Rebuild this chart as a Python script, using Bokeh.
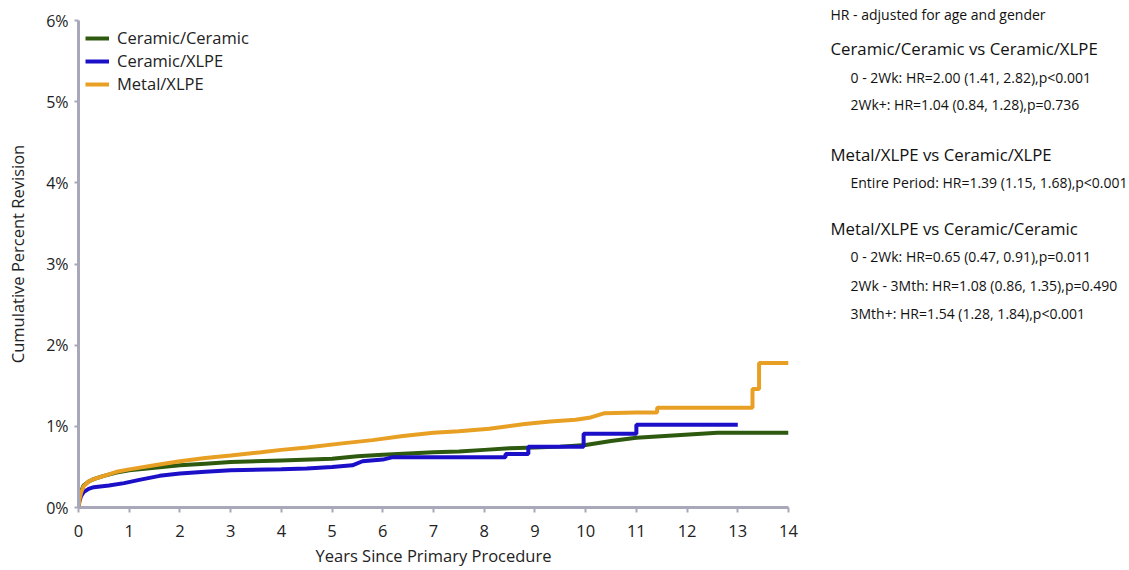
from bokeh.plotting import figure
from bokeh.layouts import row
from bokeh.models import FixedTicker, PrintfTickFormatter, Legend, LegendItem, ColumnDataSource, Range1d
from bokeh.core.properties import value
from bokeh.embed import file_html
from bokeh.resources import INLINE

# ---- data (years, cumulative percent revision) ----
cc_years = [0, 0.02, 0.05, 0.1, 0.2, 0.3, 0.5, 0.75, 1.0, 1.5, 2.0, 2.5, 3.0, 4.0, 5.0, 5.5, 6.0,
            7.0, 7.5, 8.0, 8.5, 9.0, 9.5, 10.0, 10.5, 11.0, 11.8, 12.6, 13.0, 14.0]
cc_pct = [0, 0.12, 0.2, 0.27, 0.32, 0.35, 0.39, 0.43, 0.46, 0.49, 0.52, 0.54, 0.56, 0.58, 0.60, 0.63, 0.65,
          0.68, 0.69, 0.71, 0.73, 0.74, 0.75, 0.77, 0.82, 0.86, 0.89, 0.92, 0.92, 0.92]

cx_years = [0, 0.02, 0.05, 0.1, 0.2, 0.3, 0.6, 0.9, 1.2, 1.6, 2.0, 2.5, 3.0, 4.0, 4.5, 5.0, 5.4, 5.6,
            6.0, 6.2, 7.0, 8.0, 8.42, 8.42, 8.87, 8.87, 9.96, 9.96, 11.0, 11.0, 13.0]
cx_pct = [0, 0.08, 0.14, 0.19, 0.23, 0.25, 0.27, 0.30, 0.34, 0.39, 0.42, 0.44, 0.46, 0.47, 0.48, 0.50, 0.52, 0.57,
          0.59, 0.62, 0.62, 0.62, 0.62, 0.66, 0.66, 0.75, 0.75, 0.91, 0.91, 1.02, 1.02]

mx_years = [0, 0.02, 0.05, 0.1, 0.2, 0.3, 0.5, 0.75, 1.0, 1.5, 2.0, 2.5, 3.0, 3.6, 4.0, 4.5, 5.2, 5.8,
            6.4, 7.0, 7.5, 8.1, 8.8, 9.3, 9.8, 10.1, 10.36, 11.0, 11.41, 11.41, 13.29, 13.29, 13.42, 13.42, 14.0]
mx_pct = [0, 0.1, 0.18, 0.26, 0.32, 0.35, 0.39, 0.44, 0.47, 0.52, 0.57, 0.61, 0.64, 0.68, 0.71, 0.74, 0.79, 0.83,
          0.88, 0.92, 0.94, 0.97, 1.03, 1.06, 1.08, 1.11, 1.16, 1.17, 1.17, 1.23, 1.23, 1.46, 1.46, 1.78, 1.78]

series_names = ["Ceramic/Ceramic", "Ceramic/XLPE", "Metal/XLPE"]
series_colors = ["#2d5a0f", "#1c0fc8", "#e8a024"]

x_ticks = list(range(0, 15))
y_ticks = list(range(0, 7))

note_texts = [
    "HR - adjusted for age and gender",
    "Ceramic/Ceramic vs Ceramic/XLPE",
    "0 - 2Wk: HR=2.00 (1.41, 2.82),p<0.001",
    "2Wk+: HR=1.04 (0.84, 1.28),p=0.736",
    "Metal/XLPE vs Ceramic/XLPE",
    "Entire Period: HR=1.39 (1.15, 1.68),p<0.001",
    "Metal/XLPE vs Ceramic/Ceramic",
    "0 - 2Wk: HR=0.65 (0.47, 0.91),p=0.011",
    "2Wk - 3Mth: HR=1.08 (0.86, 1.35),p=0.490",
    "3Mth+: HR=1.54 (1.28, 1.84),p<0.001",
]
note_is_heading = [False, True, False, False, True, False, True, False, False, False]
note_indent = [0, 0, 1, 1, 0, 1, 0, 1, 1, 1]
note_rows = [14, 48, 77, 104, 154, 182, 228, 256, 285, 313]

FONT = "Open Sans"

# frame spans page y 0..507; the 0-6% axis occupies 20..507
FRAME_BOTTOM = 507
Y_TOP = 6 * FRAME_BOTTOM / (FRAME_BOTTOM - 20)

# ---------------- main chart ----------------
p = figure(width=800, height=570, x_range=(0, 14), y_range=(0, Y_TOP),
           output_backend="svg", toolbar_location=None,
           min_border_left=78, min_border_right=12, min_border_top=0, min_border_bottom=63)
p.outline_line_color = None
p.xgrid.visible = False
p.ygrid.visible = False

items = []
for xs, ys, name, col in zip([cc_years, cx_years, mx_years], [cc_pct, cx_pct, mx_pct], series_names, series_colors):
    r = p.line(xs, ys, line_color=col, line_width=4)
    items.append(LegendItem(label=name, renderers=[r]))

legend = Legend(items=items, location=(7, 412))
legend.border_line_color = None
legend.background_fill_alpha = 0
legend.label_text_font = FONT
legend.label_text_font_size = "16.5px"
legend.label_text_color = "#222222"
legend.glyph_width = 24
legend.glyph_height = 20
legend.label_height = 20
legend.spacing = -4
legend.padding = 7
legend.margin = 0
legend.label_standoff = 8
p.add_layout(legend)

for ax in (p.xaxis[0], p.yaxis[0]):
    ax.axis_line_color = "#a8a8ba"
    ax.axis_line_width = 3
    ax.major_tick_line_color = "#a8a8ba"
    ax.major_tick_line_width = 2
    ax.minor_tick_line_color = None
    ax.major_tick_in = 0
    ax.major_label_text_font = FONT
    ax.major_label_text_color = "#222222"
    ax.axis_label_text_font = FONT
    ax.axis_label_text_font_size = "16.5px"
    ax.axis_label_text_font_style = "normal"
    ax.axis_label_text_color = "#222222"

p.xaxis.ticker = FixedTicker(ticks=x_ticks)
p.yaxis.ticker = FixedTicker(ticks=y_ticks)
p.yaxis.bounds = (0, 6)
p.yaxis.formatter = PrintfTickFormatter(format="%d%%")
p.xaxis.major_label_text_font_size = "16.5px"
p.yaxis.major_label_text_font_size = "16px"
p.xaxis.major_tick_out = 5
p.xaxis.major_label_standoff = 12
p.xaxis.axis_label = "Years Since Primary Procedure"
p.xaxis.axis_label_standoff = 4
p.yaxis.major_tick_out = 4
p.yaxis.major_label_standoff = 6
p.yaxis.axis_label = "Cumulative Percent Revision"
p.yaxis.axis_label_standoff = 14

# ---------------- notes panel ----------------
NW = 329
q = figure(width=NW, height=570, x_range=Range1d(0, NW), y_range=Range1d(FRAME_BOTTOM, 0),
           output_backend="svg", toolbar_location=None,
           x_axis_location=None, y_axis_location=None,
           min_border_left=0, min_border_right=0, min_border_top=0, min_border_bottom=0)
q.outline_line_color = None
q.xgrid.visible = False
q.ygrid.visible = False

src = ColumnDataSource(dict(
    x=[30 + 20 * i for i in note_indent],
    y=note_rows,
    text=note_texts,
    size=["16.8px" if h else "14px" for h in note_is_heading],
))
q.text(x="x", y="y", text="text", source=src, text_font=value(FONT), text_font_size="size",
       text_color="#111111", text_baseline="middle", text_align="left")

layout = row(p, q, spacing=0)
open("out.html", "w").write(file_html(layout, INLINE))
